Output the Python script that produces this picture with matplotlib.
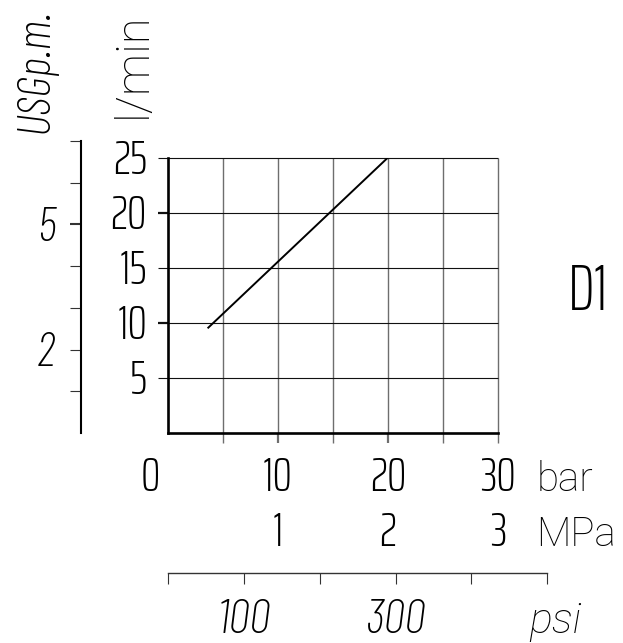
import matplotlib
matplotlib.use("Agg")
import matplotlib.pyplot as plt
from matplotlib.transforms import offset_copy, blended_transform_factory

# ---------------- data ----------------
pressure_bar = [3.6, 20.0]          # line start / end (bar)
flow_lpm = [9.5, 25.0]              # l/min

bar_grid = [5, 10, 15, 20, 25, 30]
bar_major = [10, 20]
bar_tick_labels = ["0", "10", "20", "30"]
bar_tick_pos = [0, 10, 20, 30]
mpa_tick_labels = ["1", "2", "3"]
mpa_tick_pos = [10, 20, 30]

lpm_grid = [5, 10, 15, 20, 25]
lpm_major = [10, 20]
lpm_tick_labels = ["5", "10", "15", "20", "25"]

usg_ticks = [1, 2, 3, 4, 5, 6, 7]
usg_label_pos = [2, 5]
usg_labels = ["2", "5"]

psi_ticks = [0, 100, 200, 300, 400, 500]
psi_label_pos = [100, 300]
psi_labels = ["100", "300"]

LPM_PER_USG = 3.78541
BAR_PER_PSI = 0.0689476

# ---------------- style ----------------
UP = dict(family=["Saira ExtraCondensed", "Barlow Condensed", "DejaVu Sans"], weight=275)
IT = dict(family=["Barlow Condensed", "DejaVu Sans"], weight=275, style="italic")
WIDE = dict(family=["Roboto", "DejaVu Sans"], weight=250)
WIDE_IT = dict(family=["Roboto", "DejaVu Sans"], weight=250, style="italic")
DIG = 35
VGRID_C = "#6e6e6e"
HGRID_C = "#111111"

W, H = 623, 643
fig = plt.figure(figsize=(W / 100, H / 100), dpi=100)


def fx(px):
    return px / W


def fy(py):
    return 1 - py / H


X0, X1 = 168, 498
Y0, Y1 = 433, 157.5
ax = fig.add_axes([fx(X0), fy(Y0), (X1 - X0) / W, (Y0 - Y1) / H])
ax.set_xlim(0, 30)
ax.set_ylim(0, 25)
ax.patch.set_visible(False)

# grid lines (drawn unclipped so edges at 30 / 25 show fully)
ax.vlines(bar_grid, 0, 25, color=VGRID_C, lw=1.0, clip_on=False, zorder=1)
ax.hlines(lpm_grid, 0, 30, color=HGRID_C, lw=0.8, clip_on=False, zorder=1)

for s in ["top", "right"]:
    ax.spines[s].set_visible(False)
for s in ["left", "bottom"]:
    ax.spines[s].set_linewidth(1.9)
    ax.spines[s].set_color("black")
    ax.spines[s].set_capstyle("projecting")

ax.set_xticks(bar_grid)
ax.set_yticks(lpm_grid)
ax.tick_params(axis="x", direction="out", length=7.4, width=1.0, color=VGRID_C,
               labelbottom=False)
ax.tick_params(axis="y", direction="out", length=7.4, width=0.8, color=HGRID_C,
               labelleft=False)
for t, v in zip(ax.xaxis.get_major_ticks(), bar_grid):
    if v in bar_major:
        t.tick1line.set_markeredgewidth(1.6)
        t.tick1line.set_color("black")
for t, v in zip(ax.yaxis.get_major_ticks(), lpm_grid):
    if v in lpm_major:
        t.tick1line.set_markeredgewidth(1.6)
        t.tick1line.set_color("black")

# data line
ax.plot(pressure_bar, flow_lpm, color="black", lw=1.4, solid_capstyle="butt", zorder=3)

# y tick labels (l/min)
ytr = offset_copy(ax.transData, fig=fig, x=-21, y=-16.5, units="dots")
for v, lab in zip(lpm_grid, lpm_tick_labels):
    ax.text(0, v, lab, transform=ytr, ha="right", va="baseline", fontsize=DIG, **UP)

# x tick labels (bar)
bx = blended_transform_factory(ax.transData, fig.transFigure)
for v, lab in zip(bar_tick_pos, bar_tick_labels):
    if v == 0:
        tr = offset_copy(bx, fig=fig, x=-8, y=0, units="dots")
        ax.text(v, fy(491), lab, transform=tr, ha="right", va="baseline", fontsize=DIG, **UP)
    else:
        ax.text(v, fy(491), lab, transform=bx, ha="center", va="baseline", fontsize=DIG, **UP)
for v, lab in zip(mpa_tick_pos, mpa_tick_labels):
    ax.text(v, fy(546), lab, transform=bx, ha="center", va="baseline", fontsize=DIG, **UP)

fig.text(fx(537), fy(491), "bar", ha="left", va="baseline", fontsize=29, **WIDE)
fig.text(fx(536), fy(546), "MPa", ha="left", va="baseline", fontsize=29, **WIDE)

# D1 label
fig.text(fx(568), fy(310), "D1", ha="left", va="baseline", fontsize=47, **UP)

# axis titles
fig.text(fx(146), fy(118), "l/min", rotation=90, rotation_mode="anchor",
         ha="left", va="baseline", fontsize=34, **WIDE)
fig.text(fx(47), fy(133), "USGp.m.", rotation=90, rotation_mode="anchor",
         ha="left", va="baseline", fontsize=34, **IT)

# USGpm secondary scale
UX = 81
uh = (Y0 - Y1) / H * (7 * LPM_PER_USG / 25)
axu = fig.add_axes([fx(UX), fy(Y0), 0.0005, uh])
axu.set_ylim(0, 7)
axu.set_xlim(0, 1)
axu.patch.set_visible(False)
for s in ["top", "right", "bottom"]:
    axu.spines[s].set_visible(False)
axu.spines["left"].set_linewidth(1.5)
axu.set_xticks([])
axu.set_yticks(usg_ticks)
axu.tick_params(axis="y", direction="out", length=8, width=0.8, color="#333333", labelleft=False)
for t, v in zip(axu.yaxis.get_major_ticks(), usg_ticks):
    if v == 5:
        t.tick1line.set_markeredgewidth(1.5)
        t.tick1line.set_color("black")
utr = offset_copy(axu.transData, fig=fig, x=-35, y=-16.5, units="dots")
for v, lab in zip(usg_label_pos, usg_labels):
    axu.text(0, v, lab, transform=utr, ha="center", va="baseline", fontsize=DIG, **IT)

# psi scale
PY = 573
pw = 500 * BAR_PER_PSI * (X1 - X0) / 30 / W
axp = fig.add_axes([fx(X0), fy(PY), pw, 0.0005])
axp.set_xlim(0, 500)
axp.set_ylim(0, 1)
axp.patch.set_visible(False)
for s in ["top", "right", "left"]:
    axp.spines[s].set_visible(False)
axp.spines["bottom"].set_linewidth(1.0)
axp.spines["bottom"].set_color("#333333")
axp.set_yticks([])
axp.set_xticks(psi_ticks)
axp.tick_params(axis="x", direction="out", length=8, width=0.8, color="#333333", labelbottom=False)
ptr = blended_transform_factory(axp.transData, fig.transFigure)
for v, lab in zip(psi_label_pos, psi_labels):
    axp.text(v, fy(633), lab, transform=ptr, ha="center", va="baseline", fontsize=DIG, **IT)
fig.text(fx(529), fy(633), "psi", ha="left", va="baseline", fontsize=31, **WIDE_IT)

fig.savefig("out.png", dpi=100, facecolor="white")
